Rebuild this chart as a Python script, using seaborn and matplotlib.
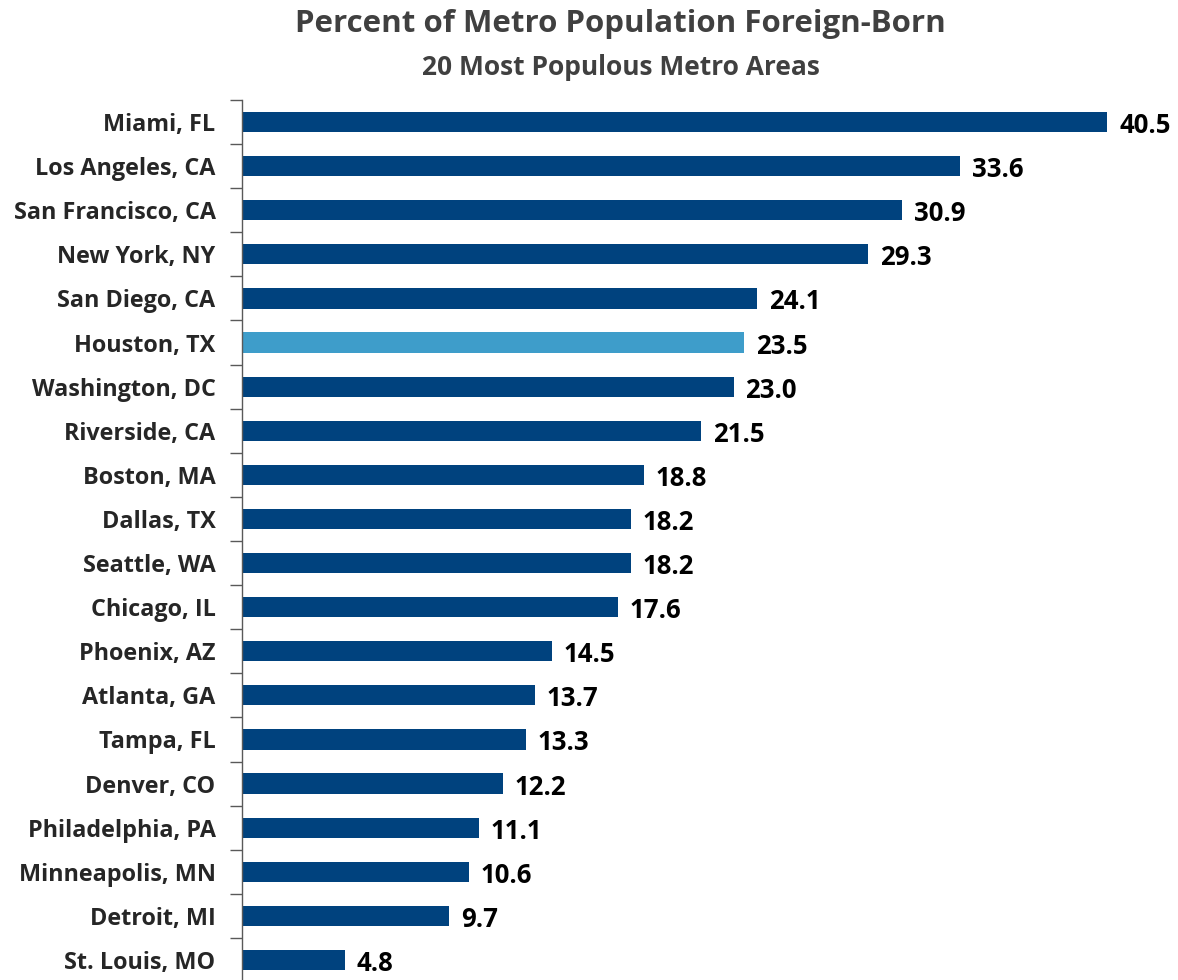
import matplotlib
matplotlib.use("Agg")
import matplotlib.pyplot as plt
import seaborn as sns
import pandas as pd
import numpy as np

metros = ["Miami, FL", "Los Angeles, CA", "San Francisco, CA", "New York, NY",
          "San Diego, CA", "Houston, TX", "Washington, DC", "Riverside, CA",
          "Boston, MA", "Dallas, TX", "Seattle, WA", "Chicago, IL",
          "Phoenix, AZ", "Atlanta, GA", "Tampa, FL", "Denver, CO",
          "Philadelphia, PA", "Minneapolis, MN", "Detroit, MI", "St. Louis, MO"]
pct_foreign = [40.5, 33.6, 30.9, 29.3, 24.1, 23.5, 23.0, 21.5, 18.8, 18.2,
               18.2, 17.6, 14.5, 13.7, 13.3, 12.2, 11.1, 10.6, 9.7, 4.8]
highlight = "Houston, TX"

dark_blue = "#00427E"
light_blue = "#3E9DCA"

df = pd.DataFrame({"metro": metros, "pct": pct_foreign})
df["group"] = np.where(df["metro"] == highlight, "hl", "base")

sns.set_theme(style="white")
plt.rcParams["font.family"] = ["Open Sans", "DejaVu Sans"]

fig = plt.figure(figsize=(11.78, 9.8), dpi=100)
ax = fig.add_axes([242 / 1178, -2 / 980, 1 - 242 / 1178, 882 / 980])

sns.barplot(data=df, x="pct", y="metro", hue="group",
            palette={"base": dark_blue, "hl": light_blue}, saturation=1,
            order=metros, dodge=False, legend=False, width=0.46,
            edgecolor="none", ax=ax)

ax.set_xlim(0, 43.8)
ax.set_ylim(len(metros) - 0.5, -0.5)
ax.set_xlabel("")
ax.set_ylabel("")
ax.set_xticks([])

for s in ["top", "right", "bottom"]:
    ax.spines[s].set_visible(False)
ax.spines["left"].set_color("#595959")
ax.spines["left"].set_linewidth(1.0)

# labels at category centres, tick marks at category boundaries
ax.set_yticks(range(len(metros)))
ax.set_yticklabels(metros, fontsize=16.8, fontweight="bold", color="#262626")
ax.tick_params(axis="y", which="major", length=0, pad=19)
ax.set_yticks(np.arange(-0.5, len(metros) + 0.5, 1), minor=True)
ax.tick_params(axis="y", which="minor", length=9, width=1.0, color="#595959", left=True)

for i, v in enumerate(pct_foreign):
    ax.text(v + 0.55, i + 0.08, f"{v:.1f}", va="center", ha="left",
            fontsize=18.5, fontweight="bold", color="#000000")

fig.text(0.527, 0.976, "Percent of Metro Population Foreign-Born", ha="center",
         va="center", fontsize=22.5, fontweight="bold", color="#404040")
fig.text(0.527, 0.931, "20 Most Populous Metro Areas", ha="center",
         va="center", fontsize=19, fontweight="bold", color="#404040")

fig.savefig("out.png", dpi=100)
